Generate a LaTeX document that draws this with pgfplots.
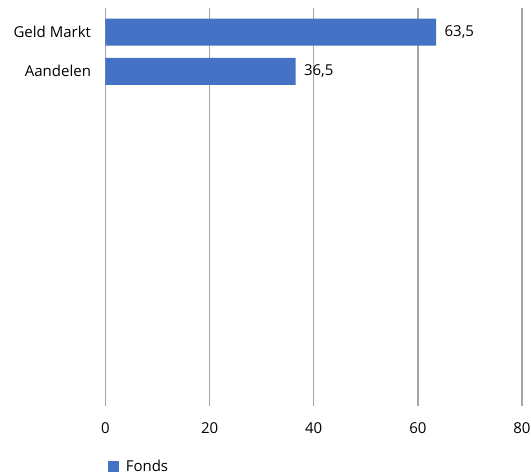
\documentclass[border=0pt]{standalone}
\usepackage{pgfplots}
\pgfplotsset{compat=1.18}
\usepackage{fontspec}
\setmainfont{Open Sans}
\definecolor{barblue}{HTML}{4472C4}
\definecolor{gridgray}{RGB}{165,165,165}
\begin{document}
\begin{tikzpicture}
\useasboundingbox (0,0) rectangle (531pt,474pt);
\begin{axis}[
  at={(105.5pt,68pt)}, anchor=south west,
  scale only axis, width=416.5pt, height=398pt,
  xbar, bar width=27pt,
  xmin=0, xmax=80, xtick={0,20,40,60,80},
  ymin=-0.62, ymax=9.56, y dir=reverse,
  ytick={0,1}, yticklabels={Geld Markt,Aandelen},
  axis line style={draw=none},
  major tick length=0pt,
  xmajorgrids, grid style={gridgray, line width=1.4pt},
  tick label style={font=\fontsize{15}{17}\selectfont},
  xticklabel style={yshift=-13pt},
  yticklabel style={xshift=-11pt},
  /pgf/number format/assume math mode=true,
  nodes near coords,
  nodes near coords style={font=\fontsize{15}{17}\selectfont, xshift=5pt,
    /pgf/number format/.cd, use comma, fixed, fixed zerofill, precision=1},
  legend style={at={(0.005,-0.151)}, anchor=west, draw=none, fill=none,
    font=\fontsize{15}{17}\selectfont, inner xsep=0pt,
    /tikz/every even column/.append style={column sep=2pt}},
  legend image code/.code={\fill[barblue] (0pt,-5.5pt) rectangle (11pt,5.5pt);},
  legend cell align=left,
  legend style={/tikz/every odd column/.append style={column sep=5pt}},
]
\addplot[fill=barblue, draw=none] coordinates {(63.5,0) (36.5,1)};
\addlegendentry{Fonds}
\end{axis}
\end{tikzpicture}
\end{document}
